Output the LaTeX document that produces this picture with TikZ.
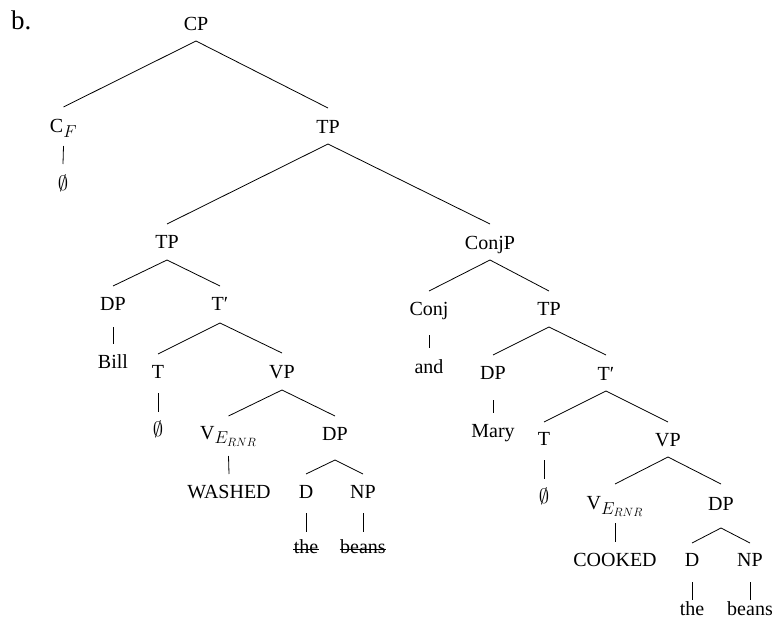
\documentclass[tikz,border=0pt]{standalone}
\usepackage{fontspec}
\setmainfont{Liberation Serif}
\DeclareMathSizes{20}{20}{16}{12}
\begin{document}
\begin{tikzpicture}[x=1pt,y=-1pt,
  lab/.style={font=\fontsize{20}{24}\selectfont, inner sep=0pt, text height=13.2pt, text depth=0pt, anchor=center},
  branch/.style={line width=0.8pt},
  strike/.style={line width=0.9pt}]
\useasboundingbox (0,0) rectangle (773,626);
\newcommand{\edgeto}[4]{\draw[branch] (#1 |- 0,#3) -- (#2 |- 0,#4);}
\node[anchor=base west, inner sep=0pt, font=\fontsize{27}{30}\selectfont] (lbl) at (11,30) {b.};
% nodes
\node[lab] (CP) at (196,23.5) {CP};
\node[lab] (CF) at (63.5,126) {C$_F$};
\node[lab] (E1) at (63,183.5) {$\emptyset$};
\node[lab] (TP1) at (328,127) {TP};
\node[lab] (TP2) at (167,241.5) {TP};
\node[lab] (ConjP) at (490,243) {ConjP};
\node[lab] (DP1) at (113,304) {DP};
\node[lab] (Tp1) at (220,304) {T′};
\node[lab] (Bill) at (113,362) {Bill};
\node[lab] (T1) at (158,371.5) {T};
\node[lab] (VP1) at (282,371.5) {VP};
\node[lab] (E2) at (158,429.5) {$\emptyset$};
\node[lab] (V1) at (228.5,432.5) {V$_{E_{RNR}}$};
\node[lab] (DP2) at (335,433.5) {DP};
\node[lab] (WASHED) at (229,492) {WASHED};
\node[lab] (D1) at (306,492) {D};
\node[lab] (NP1) at (363,492) {NP};
\node[lab] (the1) at (306,547) {the};
\node[lab] (beans1) at (363,547) {beans};
\node[lab] (Conj) at (429,309) {Conj};
\node[lab] (TP3) at (549,309) {TP};
\node[lab] (and) at (429,366.5) {and};
\node[lab] (DP3) at (493,373) {DP};
\node[lab] (Tp2) at (606,373.5) {T′};
\node[lab] (Mary) at (493,430.5) {Mary};
\node[lab] (T2) at (544,439) {T};
\node[lab] (VP2) at (668,439.5) {VP};
\node[lab] (E3) at (544,497) {$\emptyset$};
\node[lab] (V2) at (615,503) {V$_{E_{RNR}}$};
\node[lab] (DP4) at (721,503.5) {DP};
\node[lab] (COOKED) at (615,559.5) {COOKED};
\node[lab] (D2) at (692,559.5) {D};
\node[lab] (NP2) at (750,559.5) {NP};
\node[lab] (the2) at (692,608.5) {the};
\node[lab] (beans2) at (750,608.5) {beans};
% branches
\edgeto{CP}{CF}{41}{107}
\edgeto{CP}{TP1}{41}{108}
\edgeto{CF}{E1}{146}{164}
\edgeto{TP1}{TP2}{144}{224}
\edgeto{TP1}{ConjP}{144}{224}
\edgeto{TP2}{DP1}{260}{286}
\edgeto{TP2}{Tp1}{260}{286}
\edgeto{DP1}{Bill}{327}{344}
\edgeto{Tp1}{T1}{323}{354}
\edgeto{Tp1}{VP1}{323}{353}
\edgeto{T1}{E2}{393}{412}
\edgeto{VP1}{V1}{390}{416}
\edgeto{VP1}{DP2}{390}{416}
\edgeto{V1}{WASHED}{456}{474}
\edgeto{DP2}{D1}{460}{474}
\edgeto{DP2}{NP1}{460}{474}
\edgeto{D1}{the1}{513}{532}
\edgeto{NP1}{beans1}{513}{532}
\edgeto{ConjP}{Conj}{260}{291}
\edgeto{ConjP}{TP3}{260}{291}
\edgeto{Conj}{and}{335}{348}
\edgeto{TP3}{DP3}{327}{355}
\edgeto{TP3}{Tp2}{327}{355}
\edgeto{DP3}{Mary}{400}{413}
\edgeto{Tp2}{T2}{391}{422}
\edgeto{Tp2}{VP2}{391}{422}
\edgeto{T2}{E3}{460}{479}
\edgeto{VP2}{V2}{457}{484}
\edgeto{VP2}{DP4}{457}{484}
\edgeto{V2}{COOKED}{523}{542}
\edgeto{DP4}{D2}{528}{543}
\edgeto{DP4}{NP2}{528}{543}
\edgeto{D2}{the2}{582}{600}
\edgeto{NP2}{beans2}{582}{600}
% strike-through of the elided copy
\draw[strike] ([xshift=-0.5pt,yshift=-2.1pt]the1.west) -- ([xshift=0.5pt,yshift=-2.1pt]the1.east);
\draw[strike] ([xshift=-0.5pt,yshift=-2.1pt]beans1.west) -- ([xshift=0.5pt,yshift=-2.1pt]beans1.east);
\end{tikzpicture}
\end{document}
